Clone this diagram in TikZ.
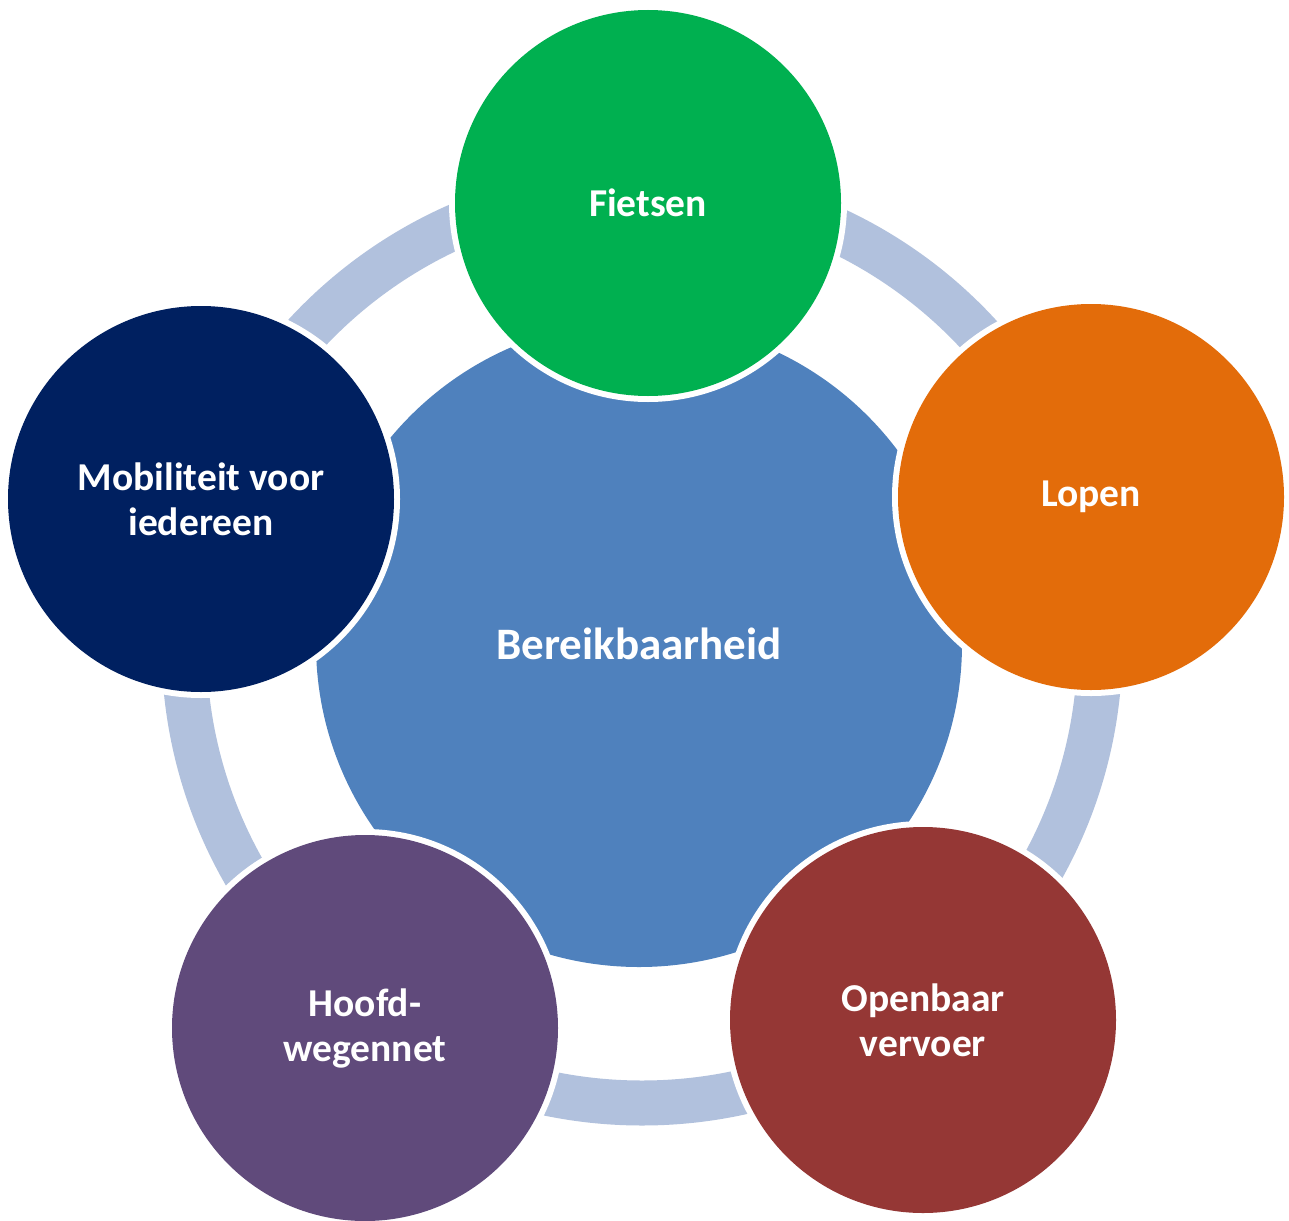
\documentclass[tikz,border=0pt]{standalone}
\usepackage{fontspec}
\setmainfont{Carlito}
\definecolor{ringc}{HTML}{B1C1DD}
\definecolor{centerc}{HTML}{4F81BD}
\definecolor{greenc}{HTML}{00B050}
\definecolor{orangec}{HTML}{E36C0A}
\definecolor{redc}{HTML}{953735}
\definecolor{purplec}{HTML}{604A7B}
\definecolor{navyc}{HTML}{002060}
\tikzset{
  lbl/.style={text=white, font=\fontsize{39.5}{45}\selectfont\bfseries, align=center},
  outer/.style={circle, fill=white, minimum size=398pt, inner sep=0pt},
  sat/.style={circle, minimum size=386pt, inner sep=0pt, lbl}
}
\begin{document}
\begin{tikzpicture}[x=1pt,y=-1pt]
\useasboundingbox[fill=white] (0,0) rectangle (1289,1220);
% ring
\coordinate (rc) at (642,645);
\draw[ringc, line width=45pt] (rc) circle[radius=458pt];
% center
\node[circle, fill=centerc, minimum size=646pt, inner sep=0pt, text=white, font=\fontsize{45}{54}\selectfont\bfseries] (center) at (639,644) {Bereikbaarheid};
% satellites
\foreach \nm/\px/\py in {fiets/648/203, lopen/1091/497, ov/923/1020, hoofd/365/1028, mob/201/499}
  \node[outer] (\nm-w) at (\px,\py) {};
\node[sat, fill=greenc] (fiets) at (648,203) {Fietsen};
\node[sat, fill=orangec] (lopen) at (1091,497) {Lopen};
\node[sat, fill=redc] (ov) at (923,1020) {Openbaar\\vervoer};
\node[sat, fill=purplec] (hoofd) at (365,1028) {Hoofd-\\wegennet};
\node[sat, fill=navyc] (mob) at (201,499) {Mobiliteit voor\\iedereen};
\end{tikzpicture}
\end{document}
